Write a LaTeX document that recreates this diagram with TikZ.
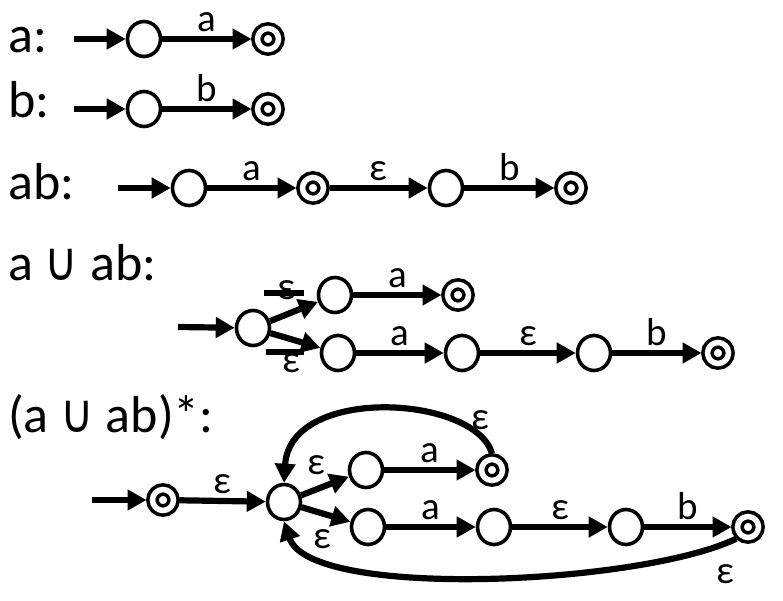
\documentclass[tikz,border=0pt]{standalone}
\usepackage{fontspec}
\usepackage{graphicx}
\setmainfont{Carlito}
\newfontfamily\symfont{DejaVu Sans}
\usetikzlibrary{arrows.meta,shapes.geometric}
\newcommand\myunion{\scalebox{0.85}[1]{\symfont\fontsize{54}{54}\selectfont ∪}}
\begin{document}
\begin{tikzpicture}[x=1pt,y=-1pt,
 st/.style={ellipse,draw,line width=3.6pt,minimum width=33pt,minimum height=35pt,inner sep=0pt},
 acc/.style={circle,draw,line width=3.6pt,double,double distance=5.5pt,minimum size=21pt,inner sep=0pt,outer sep=6pt},
 tr/.style={line width=6.2pt,-{Triangle[length=19pt,width=20pt]}},
 stub/.style={line width=6.2pt},
 lab/.style={above=4pt,inner sep=0pt,font=\fontsize{39}{39}\selectfont},
 lbl/.style={inner sep=0pt,font=\fontsize{39}{39}\selectfont},
 ttl/.style={anchor=base west,inner sep=0pt,font=\fontsize{52}{54}\selectfont}]
\useasboundingbox[fill=white] (0,0) rectangle (783,601);
% row 1
\node[ttl] (t1) at (8,53) {a:};
\coordinate (s1) at (74,39);
\node[st] (r1a) at (144,39) {};
\node[acc] (r1b) at (268,39) {};
\draw[tr] (s1) -- (r1a);
\draw[tr] (r1a) -- node[lab]{a} (r1b);
% row 2
\node[ttl] (t2) at (8,118) {b:};
\coordinate (s2) at (74,109);
\node[st] (r2a) at (144,109) {};
\node[acc] (r2b) at (268,109) {};
\draw[tr] (s2) -- (r2a);
\draw[tr] (r2a) -- node[lab]{b} (r2b);
% row 3
\node[ttl] (t3) at (8,200) {ab:};
\coordinate (s3) at (118,188);
\node[st] (r3a) at (189,188) {};
\node[acc] (r3b) at (313,188) {};
\node[st] (r3c) at (446,188) {};
\node[acc] (r3d) at (571,188) {};
\draw[tr] (s3) -- (r3a);
\draw[tr] (r3a) -- node[lab]{a} (r3b);
\draw[tr] (r3b) -- node[lab]{ε} (r3c);
\draw[tr] (r3c) -- node[lab]{b} (r3d);
% row 4
\node[ttl] (t4) at (8,280) {a \myunion\ ab:};
\coordinate (s4) at (178,327);
\node[st] (q0) at (253,328) {};
\node[st] (q1) at (335,295) {};
\node[acc] (q2) at (458,295) {};
\node[st] (q3) at (338,353) {};
\node[st] (q4) at (462,353) {};
\node[st] (q5) at (594,353) {};
\node[acc] (q6) at (718,353) {};
\coordinate (h1) at (264,293);
\coordinate (h1e) at (304,293);
\coordinate (h2) at (266,352);
\coordinate (h2e) at (304,352);
\draw[stub] (h1) -- (h1e);
\draw[stub] (h2) -- (h2e);
\draw[tr] (s4) -- (q0);
\draw[tr] (q0) -- (q1);
\draw[tr] (q0) -- (q3);
\node[lbl] (e41) at (286,290) {ε};
\node[lbl] (e42) at (291,363) {ε};
\draw[tr] (q1) -- node[lab]{a} (q2);
\draw[tr] (q3) -- node[lab]{a} (q4);
\draw[tr] (q4) -- node[lab]{ε} (q5);
\draw[tr] (q5) -- node[lab]{b} (q6);
% row 5
\node[ttl] (t5) at (8,432) {(a \myunion\ ab)*:};
\coordinate (s5) at (92,500);
\node[acc] (p0) at (163,500) {};
\node[st] (hub) at (284,502) {};
\node[st] (p1) at (366,470) {};
\node[acc] (p2) at (492,470) {};
\node[st] (p3) at (368,527) {};
\node[st] (p4) at (494,527) {};
\node[st] (p5) at (626,527) {};
\node[acc] (p6) at (748,527) {};
\draw[tr] (s5) -- (p0);
\draw[tr] (p0) -- node[lab]{ε} (hub);
\draw[tr] (hub) -- (p1);
\draw[tr] (hub) -- (p3);
\node[lbl] (e51) at (316,465) {ε};
\node[lbl] (e52) at (322,539) {ε};
\draw[tr] (p1) -- node[lab]{a} (p2);
\draw[tr] (p3) -- node[lab]{a} (p4);
\draw[tr] (p4) -- node[lab]{ε} (p5);
\draw[tr] (p5) -- node[lab]{b} (p6);
\draw[tr] (p2.north) .. controls (475,395) and (290,385) .. (hub.north);
\node[lbl] (e53) at (480,420) {ε};
\draw[tr] (p6.south west) .. controls (640,585) and (310,600) .. (hub.south);
\node[lbl] (e54) at (725,574) {ε};
\end{tikzpicture}
\end{document}
